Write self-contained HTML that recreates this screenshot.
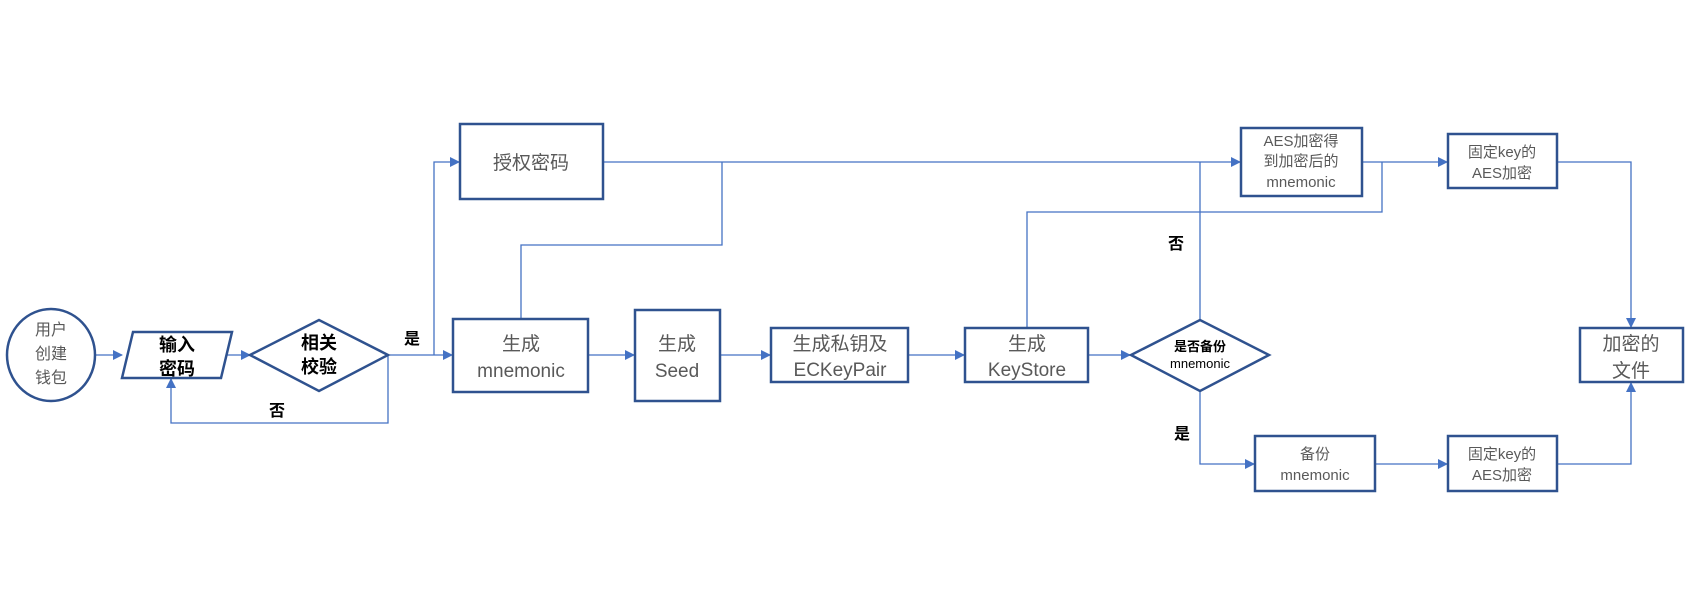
<!DOCTYPE html>
<html><head><meta charset="utf-8"><style>
html,body{margin:0;padding:0;background:#fff;}
svg{display:block;}
.b{fill:#fff;stroke:#2F528F;stroke-width:2.5;}
.l{fill:none;stroke:#4472C4;stroke-width:1.3;}
.t{font-family:"Liberation Sans","Noto Sans CJK SC",sans-serif;fill:#595959;text-anchor:middle;}
.k{font-family:"Liberation Sans","Noto Sans CJK SC",sans-serif;fill:#000;font-weight:bold;text-anchor:middle;}
</style></head><body>
<svg width="1687" height="609" viewBox="0 0 1687 609" xmlns="http://www.w3.org/2000/svg">
<defs><marker id="a" markerWidth="10" markerHeight="10" refX="9" refY="5" orient="auto" markerUnits="userSpaceOnUse"><path d="M0,0 L10,5 L0,10 z" fill="#4472C4"/></marker></defs>
<!-- connectors -->
<path class="l" d="M95,355 H122" marker-end="url(#a)"/>
<path class="l" d="M227,355 H250" marker-end="url(#a)"/>
<path class="l" d="M388,355 V423 H171 V379" marker-end="url(#a)"/>
<path class="l" d="M388,355 H452" marker-end="url(#a)"/>
<path class="l" d="M434,355 V162 H459" marker-end="url(#a)"/>
<path class="l" d="M603,162 H1240" marker-end="url(#a)"/>
<path class="l" d="M722,162 V245 H521 V319"/>
<path class="l" d="M588,355 H634" marker-end="url(#a)"/>
<path class="l" d="M720,355 H770" marker-end="url(#a)"/>
<path class="l" d="M908,355 H964" marker-end="url(#a)"/>
<path class="l" d="M1088,355 H1130" marker-end="url(#a)"/>
<path class="l" d="M1200,320 V162"/>
<path class="l" d="M1027,328 V212 H1382 V162"/>
<path class="l" d="M1362,162 H1447" marker-end="url(#a)"/>
<path class="l" d="M1557,162 H1631 V327" marker-end="url(#a)"/>
<path class="l" d="M1200,391 V464 H1254" marker-end="url(#a)"/>
<path class="l" d="M1375,464 H1447" marker-end="url(#a)"/>
<path class="l" d="M1557,464 H1631 V383" marker-end="url(#a)"/>
<!-- shapes -->
<ellipse class="b" cx="51" cy="355" rx="44" ry="46"/>
<polygon class="b" points="133,332 232,332 221,378 122,378"/>
<polygon class="b" points="250,355 319,320 388,355 319,391"/>
<rect class="b" x="460" y="124" width="143" height="75"/>
<rect class="b" x="453" y="319" width="135" height="73"/>
<rect class="b" x="635" y="310" width="85" height="91"/>
<rect class="b" x="771" y="328" width="137" height="54"/>
<rect class="b" x="965" y="328" width="123" height="54"/>
<polygon class="b" points="1131,355 1200,320 1269,355 1200,391"/>
<rect class="b" x="1241" y="128" width="121" height="68"/>
<rect class="b" x="1448" y="134" width="109" height="54"/>
<rect class="b" x="1580" y="328" width="103" height="54"/>
<rect class="b" x="1255" y="436" width="120" height="55"/>
<rect class="b" x="1448" y="436" width="109" height="55"/>
<!-- text -->
<text class="t" font-size="16"><tspan x="51" y="335">用户</tspan><tspan x="51" y="359">创建</tspan><tspan x="51" y="383">钱包</tspan></text>
<text class="k" font-size="18"><tspan x="177" y="351">输入</tspan><tspan x="177" y="375">密码</tspan></text>
<text class="k" font-size="18"><tspan x="319" y="349">相关</tspan><tspan x="319" y="373">校验</tspan></text>
<text class="k" font-size="16" x="412" y="344">是</text>
<text class="k" font-size="16" x="277" y="416">否</text>
<text class="t" font-size="19" x="531" y="169">授权密码</text>
<text class="t" font-size="19"><tspan x="521" y="350">生成</tspan><tspan x="521" y="377">mnemonic</tspan></text>
<text class="t" font-size="19"><tspan x="677" y="350">生成</tspan><tspan x="677" y="377">Seed</tspan></text>
<text class="t" font-size="19"><tspan x="840" y="350">生成私钥及</tspan><tspan x="840" y="376">ECKeyPair</tspan></text>
<text class="t" font-size="19"><tspan x="1027" y="350">生成</tspan><tspan x="1027" y="376">KeyStore</tspan></text>
<text class="k" font-size="13"><tspan x="1200" y="351">是否备份</tspan><tspan x="1200" y="368" font-weight="normal">mnemonic</tspan></text>
<text class="k" font-size="16" x="1176" y="249">否</text>
<text class="k" font-size="16" x="1182" y="439">是</text>
<text class="t" font-size="15"><tspan x="1301" y="146">AES加密得</tspan><tspan x="1301" y="166">到加密后的</tspan><tspan x="1301" y="187">mnemonic</tspan></text>
<text class="t" font-size="15"><tspan x="1502" y="157">固定key的</tspan><tspan x="1502" y="178">AES加密</tspan></text>
<text class="t" font-size="15"><tspan x="1315" y="459">备份</tspan><tspan x="1315" y="480">mnemonic</tspan></text>
<text class="t" font-size="15"><tspan x="1502" y="459">固定key的</tspan><tspan x="1502" y="480">AES加密</tspan></text>
<text class="t" font-size="19"><tspan x="1631" y="350">加密的</tspan><tspan x="1631" y="377">文件</tspan></text>
</svg>
</body></html>
